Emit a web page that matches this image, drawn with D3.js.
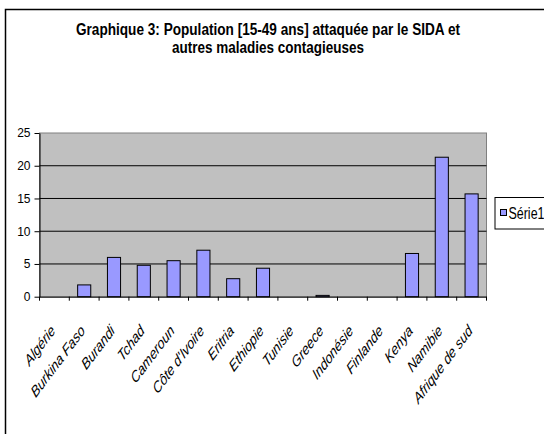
<!DOCTYPE html>
<html>
<head>
<meta charset="utf-8">
<script src="https://cdn.jsdelivr.net/npm/d3@7"></script>
<style>
  body { margin: 0; background: #fff; }
  svg { display: block; }
</style>
</head>
<body>
<div id="chart"></div>
<script>
// --- Données ---
const pays = ["Algérie", "Burkina Faso", "Burandi", "Tchad", "Cameroun", "Côte d'Ivoire",
  "Eritria", "Ethiopie", "Tunisie", "Greece", "Indonésie", "Finlande", "Kenya", "Namibie", "Afrique de sud"];
const serie1 = [0, 1.8, 6.0, 4.8, 5.5, 7.1, 2.75, 4.35, 0, 0.2, 0, 0, 6.6, 21.3, 15.7];
const yTicks = [0, 5, 10, 15, 20, 25];
const titre = ["Graphique 3: Population [15-49 ans] attaquée par le SIDA et",
  "autres maladies contagieuses"];
const nomSerie = "Série1";

const W = 544, H = 434;
const font = "'Liberation Sans', Arial, sans-serif";
const K = 1.33; // étirement vertical du texte (image d'origine étirée)
const plot = { left: 39.5, top: 133, right: 486.5, bottom: 296.7 };

const svg = d3.select("#chart").append("svg").attr("width", W).attr("height", H);

// cadre extérieur
svg.append("rect")
  .attr("x", 5.5).attr("y", 9.5).attr("width", W + 10).attr("height", H + 10)
  .attr("fill", "#fff").attr("stroke", "#000").attr("stroke-width", 1.5);

// titre
svg.selectAll("text.titre")
  .data(titre)
  .enter()
  .append("text")
  .attr("class", "titre")
  .attr("transform", (d, i) => `translate(268,${35 + i * 17.5}) scale(1,${K})`)
  .attr("text-anchor", "middle")
  .attr("font-family", font)
  .attr("font-weight", "bold")
  .attr("font-size", "12px")
  .attr("textLength", (d, i) => (i === 0 ? 384 : 192))
  .attr("lengthAdjust", "spacingAndGlyphs")
  .text((d) => d);

const x = d3.scaleBand().domain(pays).range([plot.left, plot.right]);
const y = d3.scaleLinear().domain([0, 25]).range([plot.bottom, plot.top]);

// zone de tracé
svg.append("rect")
  .attr("x", plot.left).attr("y", plot.top)
  .attr("width", plot.right - plot.left).attr("height", plot.bottom - plot.top)
  .attr("fill", "#c0c0c0").attr("stroke", "#808080").attr("stroke-width", 1);

// quadrillage
svg.append("g")
  .selectAll("line")
  .data(yTicks.slice(1, -1))
  .enter()
  .append("line")
  .attr("x1", plot.left).attr("x2", plot.right)
  .attr("y1", (d) => y(d)).attr("y2", (d) => y(d))
  .attr("stroke", "#000").attr("stroke-width", 1);

// barres
svg.append("g")
  .selectAll("rect")
  .data(pays.map((p, i) => ({ p, v: serie1[i] })).filter((d) => d.v > 0))
  .enter()
  .append("rect")
  .attr("x", (d) => x(d.p) + x.bandwidth() * 0.28)
  .attr("width", x.bandwidth() * 0.44)
  .attr("y", (d) => y(d.v))
  .attr("height", (d) => y(0) - y(d.v))
  .attr("fill", "#9999ff")
  .attr("stroke", "#000")
  .attr("stroke-width", 1);

// axe Y
const yAxis = svg.append("g")
  .attr("transform", `translate(${plot.left},0)`)
  .call(d3.axisLeft(y).tickValues(yTicks).tickSize(5).tickPadding(4).tickSizeOuter(0));
yAxis.selectAll("text").attr("font-family", font).attr("font-size", "12px").attr("fill", "#000");
yAxis.select(".domain").attr("stroke", "#000");

// axe X
const xAxis = svg.append("g")
  .attr("transform", `translate(0,${plot.bottom})`)
  .call(d3.axisBottom(x).tickSize(0).tickFormat(""));
xAxis.select(".domain").attr("stroke", "#000");

svg.append("g")
  .selectAll("line")
  .data(d3.range(pays.length + 1))
  .enter()
  .append("line")
  .attr("x1", (i) => plot.left + i * x.step())
  .attr("x2", (i) => plot.left + i * x.step())
  .attr("y1", plot.bottom).attr("y2", plot.bottom + 4)
  .attr("stroke", "#000");

svg.append("g")
  .selectAll("text")
  .data(pays)
  .enter()
  .append("text")
  .attr("transform", (d) =>
    `translate(${x(d) + x.bandwidth() / 2 + 1.5},${plot.bottom + 35}) scale(1,${K}) rotate(-45)`)
  .attr("text-anchor", "end")
  .attr("font-family", font)
  .attr("font-style", "italic")
  .attr("font-size", "12px")
  .text((d) => d);

// légende
const leg = svg.append("g");
leg.append("rect")
  .attr("x", 495).attr("y", 197.5).attr("width", 60).attr("height", 31.5)
  .attr("fill", "#fff").attr("stroke", "#000").attr("stroke-width", 1);
leg.append("rect")
  .attr("x", 500.5).attr("y", 209.5).attr("width", 6).attr("height", 6)
  .attr("fill", "#9999ff").attr("stroke", "#000").attr("stroke-width", 1);
leg.append("text")
  .attr("transform", `translate(508.5,219.3) scale(1,${K})`)
  .attr("font-family", font)
  .attr("font-size", "12px")
  .attr("textLength", 36)
  .attr("lengthAdjust", "spacingAndGlyphs")
  .text(nomSerie);
</script>
</body>
</html>
